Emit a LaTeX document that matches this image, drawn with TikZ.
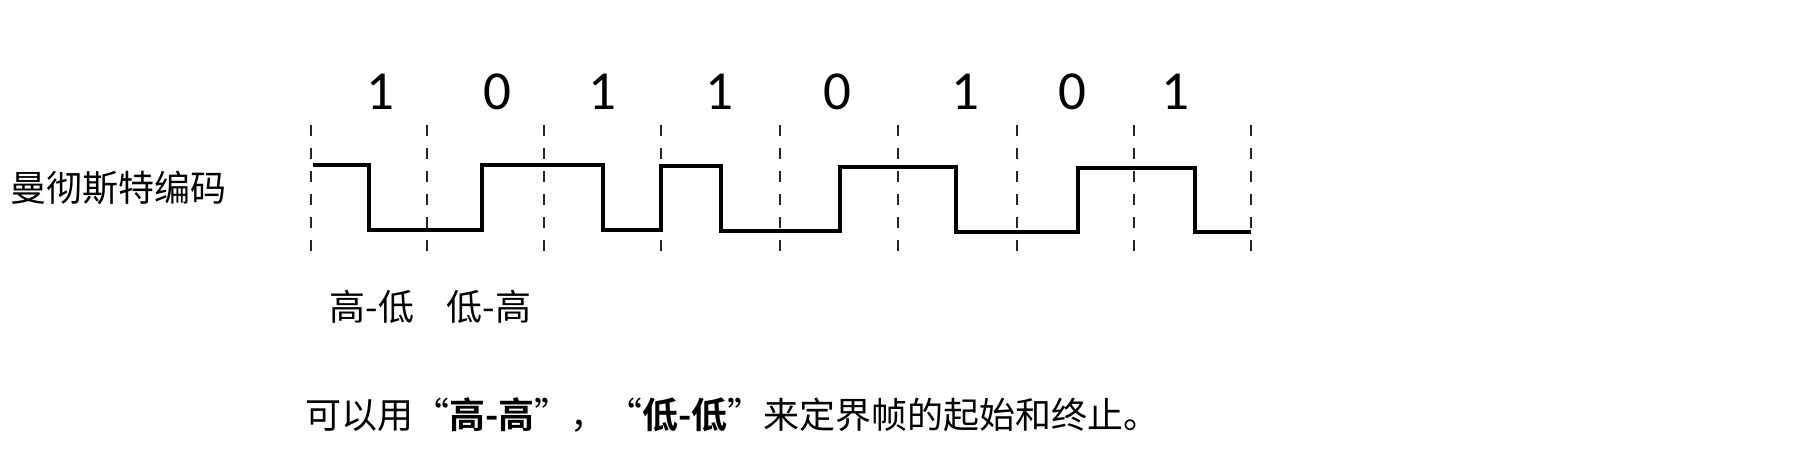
\documentclass[tikz,border=0pt]{standalone}
\usepackage{fontspec}
\newfontfamily\cjk{Noto Sans CJK SC}[BoldFont={Noto Sans CJK SC Bold}]
\newfontfamily\digits{Carlito}
\begin{document}
\begin{tikzpicture}[x=1pt,y=-1pt,
  bitlabel/.style={font=\digits\fontsize{55}{60}\selectfont, inner sep=0pt},
  cjklabel/.style={font=\cjk\fontsize{36}{40}\selectfont, inner sep=0pt},
  boundary/.style={draw=black!85, line width=2pt, dash pattern=on 11pt off 12pt},
  wave/.style={draw=black, line width=4.5pt, line join=miter}]
\useasboundingbox (0,0) rectangle (1799,461);
% boundaries
\foreach \x [count=\i] in {311,427,544,661,780,898,1017,1134,1251}{
  \coordinate (t\i) at (\x,125);
  \coordinate (b\i) at (\x,263);
  \draw[boundary] (t\i) -- (b\i);
}
% bits
\foreach \b/\x [count=\i] in {1/380,0/497,1/602,1/719,0/837,1/965,0/1072,1/1175}{
  \node[bitlabel] (bit\i) at (\x,92) {\b};
}
% waveform
\draw[wave] (313,165) -- (369,165) -- (369,230) -- (482,230) -- (482,165)
  -- (603,165) -- (603,230) -- (661,230) -- (661,166) -- (721,166)
  -- (721,231) -- (840,231) -- (840,167) -- (956,167) -- (956,232)
  -- (1078,232) -- (1078,168) -- (1195,168) -- (1195,232) -- (1251,232);
% labels
\node[cjklabel, anchor=west] (title) at (10,188) {曼彻斯特编码};
\node[cjklabel] (hl) at (372,307) {高-低};
\node[cjklabel] (lh) at (489,307) {低-高};
\node[cjklabel, anchor=west] (note) at (305,415) {可以用“\textbf{高-高}”，“\textbf{低-低}”来定界帧的起始和终止。};
\end{tikzpicture}
\end{document}
